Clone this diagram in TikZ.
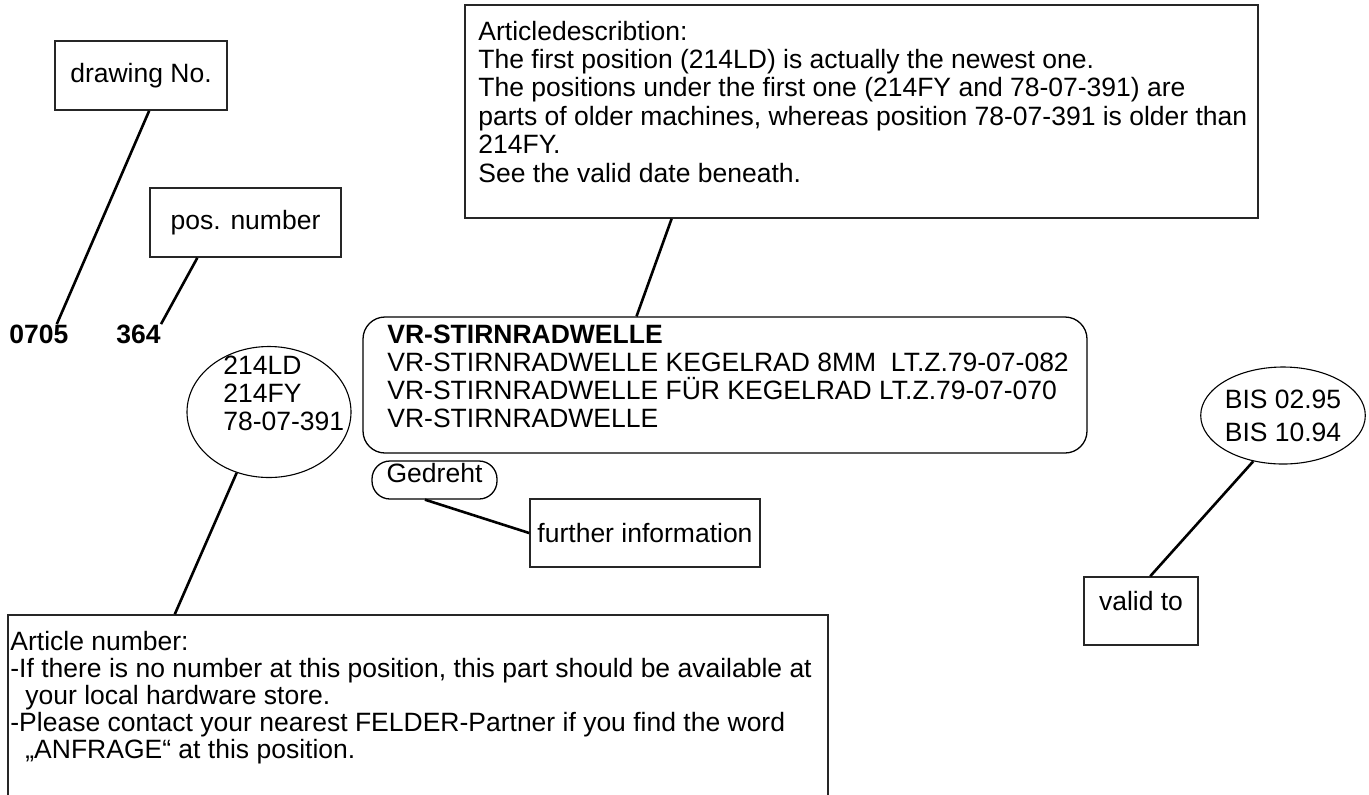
\documentclass[tikz,border=0pt]{standalone}
\usepackage{fontspec}
\setmainfont{Liberation Sans}
\usetikzlibrary{shapes.geometric, calc}
\tikzset{
  tagbox/.style={draw=black!85, line width=0.8pt, inner sep=0pt, align=center},
  notebox/.style={draw=black!85, line width=0.8pt, inner sep=0pt},
  roundbox/.style={draw, line width=0.65pt, rounded corners=11pt, inner sep=0pt},
  oval/.style={draw, ellipse, line width=0.55pt, inner sep=0pt, align=left},
  notetext/.style={inner sep=0pt, align=left, anchor=base west},
  posnum/.style={inner sep=0pt, anchor=base west, font=\fontsize{13.25}{13.85}\selectfont\bfseries},
  leader/.style={line width=1.3pt},
}
\begin{document}
\begin{tikzpicture}[x=0.5pt, y=-0.5pt, font=\fontsize{13.25}{13.85}\selectfont]
  \useasboundingbox (0,0) rectangle (1369,794);
  % numbers of the list line
  \node[posnum] (drwno) at (9,343) {0705};
  \node[posnum] (posno) at (116,343) {364};
  \node[tagbox, minimum width=86pt, minimum height=34.5pt] (drw) at (141,75.5) {drawing No.};
  \node[tagbox, minimum width=95.5pt, minimum height=34.5pt] (posb) at (245.5,222.5) {pos. number};
  % article numbers
  \node[oval, minimum width=82pt, minimum height=65.5pt] (artell) at (269,412) {};
  \node[notetext] (artnr) at (223,430) {214LD\\214FY\\78-07-391};
  \node[notebox, minimum width=410pt, minimum height=105pt] (artbox) at (418,720) {};
  \node[notetext, font=\fontsize{13.25}{13.5}\selectfont] (arttext) at (10,758)
    {Article number:\\
     -If there is no number at this position, this part should be available at\\
     \hspace*{7.5pt}your local hardware store.\\
     -Please contact your nearest FELDER-Partner if you find the word\\
     \hspace*{7.5pt}„ANFRAGE“ at this position.};
  % description
  \node[notebox, minimum width=396.5pt, minimum height=106.5pt] (desc) at (861.5,111.5) {};
  \node[notetext, font=\fontsize{13.25}{14.2}\selectfont] (desctext) at (478,182)
    {Articledescribtion:\\
     The first position (214LD) is actually the newest one.\\
     The positions under the first one (214FY and 78-07-391) are\\
     parts of older machines, whereas position 78-07-391 is older than\\
     214FY.\\
     See the valid date beneath.};
  \node[roundbox, minimum width=362pt, minimum height=68pt] (vrbox) at (725,385) {};
  \node[notetext] (vrtext) at (387,427)
    {\textbf{VR-STIRNRADWELLE}\\
     VR-STIRNRADWELLE KEGELRAD 8MM\ \ LT.Z.79-07-082\\
     VR-STIRNRADWELLE FÜR KEGELRAD LT.Z.79-07-070\\
     VR-STIRNRADWELLE};
  \node[roundbox, rounded corners=9pt, minimum width=62.5pt, minimum height=19pt, text depth=7.5pt] (ged) at (434.5,480) {Gedreht};
  \node[tagbox, minimum width=115pt, minimum height=34pt] (further) at (645,533) {further information};
  % valid date
  \node[oval, minimum width=76pt, minimum height=48.5pt] (bis) at (1283,415.5) {BIS 02.95\\[2.6pt]BIS 10.94};
  \node[tagbox, minimum width=57pt, minimum height=34pt, text depth=10pt] (valid) at (1141,611) {valid to};

  \draw[leader] ($(drw.south west)!0.547!(drw.south east)$) -- ($(drwno.north west)!0.8!(drwno.north east)$);
  \draw[leader] ($(posb.south west)!0.25!(posb.south east)$) -- (posno.north east);
  \draw[leader] (artell.-118) -- ($(artbox.north west)!0.204!(artbox.north east)$);
  \draw[leader] ($(desc.south west)!0.261!(desc.south east)$) -- ($(vrbox.north west)!0.378!(vrbox.north east)$);
  \draw[leader] ($(ged.south west)!0.424!(ged.south east)$) -- (further.west);
  \draw[leader] (bis.-123) -- ($(valid.north west)!0.58!(valid.north east)$);
\end{tikzpicture}
\end{document}
